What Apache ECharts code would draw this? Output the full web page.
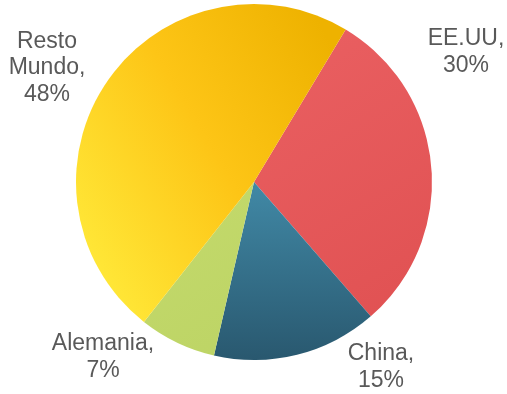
<!DOCTYPE html>
<html>
<head>
<meta charset="utf-8">
<script src="https://cdn.jsdelivr.net/npm/echarts@6/dist/echarts.min.js"></script>
<style>
html,body{margin:0;padding:0;background:#fff;}
#c{width:507px;height:394px;}
</style>
</head>
<body>
<div id="c"></div>
<script>
var categories = ['EE.UU', 'China', 'Alemania', 'Resto Mundo'];
var values = [30, 15, 7, 48];
var labelTexts = ['EE.UU,\n30%', 'China,\n15%', 'Alemania,\n7%', 'Resto\nMundo,\n48%'];

var colors = [
  new echarts.graphic.LinearGradient(0, 0, 1, 1, [{offset: 0, color: '#EA6062'}, {offset: 1, color: '#E05152'}]),
  new echarts.graphic.LinearGradient(0, 0, 0, 1, [{offset: 0, color: '#4189A6'}, {offset: 1, color: '#29586F'}]),
  new echarts.graphic.LinearGradient(0, 0, 1, 1, [{offset: 0, color: '#C4DA6C'}, {offset: 1, color: '#BDD465'}]),
  new echarts.graphic.LinearGradient(0, 0.7, 1, 0.2, [{offset: 0, color: '#FFE636'}, {offset: 0.5, color: '#FDC516'}, {offset: 1, color: '#EEB200'}])
];
var labelPos = [[466, 52], [381, 367], [103, 357], [47, 68]];

var data = categories.map(function (c, i) {
  return {name: c, value: values[i], itemStyle: {color: colors[i]},
    label: {formatter: labelTexts[i]}};
});

var chart = echarts.init(document.getElementById('c'), null, {renderer: 'canvas'});
chart.setOption({
  animation: false,
  series: [{
    type: 'pie',
    center: [254, 182],
    radius: 178,
    startAngle: 59,
    clockwise: true,
    data: data,
    itemStyle: {borderWidth: 0},
    label: {
      show: true,
      position: 'outside',
      color: '#595959',
      fontFamily: 'Liberation Sans, Arial, sans-serif',
      fontSize: 23,
      lineHeight: 26.5,
      align: 'center',
      overflow: 'none',
      width: 200
    },
    labelLine: {show: false},
    emphasis: {disabled: true},
    labelLayout: function (p) {
      var pos = labelPos[p.dataIndex];
      return {x: pos[0], y: pos[1], align: 'center', verticalAlign: 'middle'};
    }
  }]
});
</script>
</body>
</html>
